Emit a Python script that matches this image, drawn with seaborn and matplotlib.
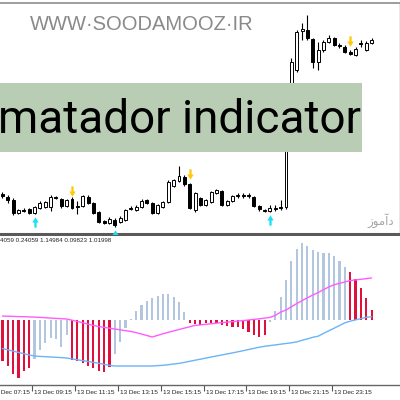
import numpy as np
import pandas as pd
import matplotlib
matplotlib.use("Agg")
import matplotlib.pyplot as plt
import matplotlib.transforms as mtransforms
from matplotlib.path import Path
from matplotlib.patches import Rectangle
from matplotlib import font_manager as fm
import seaborn as sns

sns.set_theme(style="white")
plt.rcParams['font.family'] = ['DejaVu Sans']

# ---------------- data ----------------
opens = [46, 43, 40, 27, 30, 31, 27, 32, 33, 33, 43, 41, 34, 41, 34, 34, 43, 37, 28, 19,
         17, 20, 18, 20, 32, 30, 33, 40, 37, 27, 33, 38, 54, 59, 63, 56, 30, 42, 35, 38,
         47, 49, 35, 39, 45, 45, 45, 43, 34, 30.5, 29, 32, 33, 33, 115, 170, 209, 210, 201, 178,
         190, 198, 202, 195, 193, 188, 185, 197, 190, 197]
highs = [48, 45, 42, 31, 32, 32, 34, 39, 39, 45, 44, 42, 41, 43, 39, 45, 45, 38, 29, 20,
         23, 22, 24, 31, 34, 35, 41, 41, 38, 36, 39, 60, 61, 74, 65, 57, 48, 43, 41, 49,
         51, 50, 40, 45, 47, 47, 47, 44, 35, 31, 35, 35, 40, 122, 182, 210, 217, 225, 202, 198,
         200, 205, 203, 197, 195, 190, 193, 200, 199, 202]
lows = [42, 37, 25, 26, 28, 26, 26, 31, 32, 29, 41, 32, 33, 31, 26, 33, 36, 26, 17, 16,
        16, 13, 17, 19, 30, 29, 32, 36, 26, 26, 32, 37, 53, 58, 54, 31, 28, 34, 34, 37,
        46, 34, 34, 38, 42, 42, 42, 33, 29, 28, 28, 29, 30, 31, 113, 168, 200, 200, 172, 170,
        188, 197, 194, 192, 187, 185, 184, 193, 189, 196]
closes = [44, 40, 27, 30, 29.5, 27, 33, 37, 38, 43, 42.5, 34, 40, 32, 33.5, 44, 37, 27, 18, 17,
          21, 15, 22, 30, 31.5, 33, 39, 37, 27, 35, 38, 58, 60, 64, 56, 32, 47, 35, 40, 48,
          50, 35, 39, 44, 44.5, 44.5, 44.5, 34, 31, 29.5, 32, 31.5, 32.5, 120, 178, 208, 211, 202, 178, 190,
          198, 202, 195, 194.5, 188, 186.5, 191, 196.5, 197, 200]

hist = [-40.7, -46, -54, -58, -51, -48, -39, -30, -23, -18, -19, -27, -15, -40, -41, -43, -46, -48, -51, -52,
        -47, -34, -22, -8, 1, 9, 15, 19.3, 22, 24, 26, 26, 23.3, 18.3, 8.3, -3, -4, -5, -3, -3,
        -3, -5, -6, -7, -7, -8.5, -12, -15, -17, -15, -2, 9, 23.3, 40, 59.3, 71, 76.7, 74.3, 70, 68,
        67.3, 67.3, 64, 59, 53.3, 47.7, 41, 32.3, 21.7, 10]
hist_state = (['down'] * 6 + ['up'] * 7 + ['down'] * 8 + ['up'] * 14 + ['down'] * 15 +
              ['up'] * 15 + ['down'] * 5)

signal = [3.9, 3.8, 3.6, 3.4, 3.3, 3.1, 2.9, 2.6, 2.3, 1.9, 1.6, 1.3, 1.0, -0.2, -1.5, -2.8, -4.1, -5.4, -6.6, -7.3,
          -8.2, -9.0, -9.8, -10.7, -11.4, -12.6, -14.1, -15.5, -17.0, -15.4, -13.8, -12.3, -10.9, -9.5, -8.1, -6.8, -5.4, -4.9, -4.3, -3.8,
          -3.2, -2.7, -2.1, -1.6, -1.1, -0.6, 0.0, 0.6, 1.2, 1.9, 2.6, 4.6, 7.9, 10.0, 13.2, 16.4, 19.4, 22.2, 25.0, 27.4,
          30.3, 33.0, 35.3, 36.6, 38.1, 39.4, 40.1, 40.7, 41.4, 42.0]
slow = [-28.5, -29.8, -31.1, -32.4, -33.7, -35, -36, -36.4, -36.7, -37, -37.3, -37.6, -38, -38.9, -39.8, -40.6, -41.5, -42.4, -43.3, -44.4,
        -45.3, -46, -46, -46, -46, -46, -46, -46, -46, -45.6, -45.3, -44.7, -44, -43.4, -42.4, -41.3, -40.2, -39.2, -38.1, -37,
        -36, -35, -33.9, -32.9, -31.8, -30.7, -29.5, -28.4, -27.2, -26.3, -25.6, -24.9, -24.2, -23.5, -22.8, -21.9, -20.3, -18.9, -17.3, -16.2,
        -13.4, -10.8, -8.2, -5.5, -2.8, -1.2, 0.1, 1.4, 2.7, 3.3]

sell_idx = [13, 35, 65]
sell_price = [49, 66, 199]
buy_idx = [6, 21, 50]
buy_price = [18, 5, 20]

time_labels = ["13 Dec 07:15", "13 Dec 09:15", "13 Dec 11:15", "13 Dec 13:15", "13 Dec 15:15",
               "13 Dec 17:15", "13 Dec 19:15", "13 Dec 21:15", "13 Dec 23:15"]
time_label_bar = [-2.4, 5.6, 13.6, 21.6, 29.6, 37.6, 45.6, 53.6, 61.6]

indicator_values = "4059 0.24059 1.14984 0.09823 1.01998"

# ---------------- figure ----------------
H = 400.0
fig = plt.figure(figsize=(4, 4), dpi=100)
fig.patch.set_facecolor("white")


def fy(px):
    return 1 - px / H


ax = fig.add_axes([0, fy(234), 1, (234 - 3) / H])
ax2 = fig.add_axes([0, fy(385), 1, (385 - 236) / H])
xlim = (-0.458, 74.31)

names = {f.name for f in fm.fontManager.ttflist}

# candles
n = len(opens)
x = np.arange(n)
o = np.array(opens, float)
c = np.array(closes, float)
hi = np.array(highs, float)
lo = np.array(lows, float)
ax.vlines(x, lo, hi, color="black", lw=0.8, zorder=2)
bull = c >= o
body_bottom = np.minimum(o, c)
body_h = np.maximum(np.abs(c - o), 0.3)
ax.bar(x[bull], body_h[bull], bottom=body_bottom[bull], width=0.55,
       color="white", edgecolor="black", linewidth=0.7, zorder=3)
ax.bar(x[~bull], body_h[~bull], bottom=body_bottom[~bull], width=0.55,
       color="black", edgecolor="black", linewidth=0.7, zorder=3)

down_arrow = Path([(-0.22, 1), (0.22, 1), (0.22, 0), (0.62, 0), (0, -1), (-0.62, 0), (-0.22, 0), (-0.22, 1)],
                  [Path.MOVETO] + [Path.LINETO] * 6 + [Path.CLOSEPOLY])
up_arrow = Path([(-0.22, -1), (0.22, -1), (0.22, 0), (0.62, 0), (0, 1), (-0.62, 0), (-0.22, 0), (-0.22, -1)],
                [Path.MOVETO] + [Path.LINETO] * 6 + [Path.CLOSEPOLY])
ax.scatter(sell_idx, sell_price, marker=down_arrow, s=55, color="#ffc800", linewidths=0, zorder=4)
ax.scatter(buy_idx, buy_price, marker=up_arrow, s=55, color="#16e0f5", linewidths=0, zorder=4)

ax.set_xlim(*xlim)
ax.set_ylim(6, 237)
ax.set_xticks([])
ax.set_yticks([])
ax.spines["left"].set_visible(False)
ax.spines["top"].set_color("#8c8c8c")
ax.spines["top"].set_linewidth(1.2)
ax.spines["right"].set_color("#8c8c8c")
ax.spines["right"].set_linewidth(1.0)
ax.spines["bottom"].set_color("#5a5a5a")
ax.spines["bottom"].set_linewidth(2.2)

# Persian watermark fragment (presentation forms, visual order)
ax.text(68.2, 19, "\ufeaf\ufeee\ufee3\ufe81\ufea9", fontsize=8.5, color="#a6a6a6",
        family="DejaVu Sans", va="center", ha="left", zorder=2)

# indicator
df = pd.DataFrame({"bar": x, "value": hist, "state": hist_state})
sns.barplot(data=df, x="bar", y="value", hue="state",
            palette={"down": "#e0103c", "up": "#b3c6e0"}, native_scale=True,
            width=0.4, dodge=False, legend=False, errorbar=None, saturation=1,
            linewidth=0, ax=ax2, zorder=2)
sns.lineplot(x=x, y=signal, color="#ff5cff", lw=1.0, ax=ax2, zorder=3)
sns.lineplot(x=x, y=slow, color="#6ab4f8", lw=1.0, ax=ax2, zorder=3)
ax2.set_xlim(*xlim)
ax2.set_ylim(-65, 84)
ax2.set_xlabel("")
ax2.set_ylabel("")
ax2.set_yticks([])
ticks_in = [t for t in time_label_bar if xlim[0] <= t <= xlim[1]]
ax2.set_xticks(ticks_in)
ax2.set_xticklabels([""] * len(ticks_in))
ax2.tick_params(axis="x", direction="out", length=4, width=0.8, color="#555555", bottom=True)
for s in ["left", "top", "right"]:
    ax2.spines[s].set_visible(False)
ax2.spines["bottom"].set_color("#666666")
ax2.spines["bottom"].set_linewidth(1.0)

lab_font = "Liberation Sans" if "Liberation Sans" in names else "DejaVu Sans"
lab_tr = mtransforms.offset_copy(ax2.get_xaxis_transform(), fig, x=2, y=-4.5, units="dots")
for pos, lab in zip(time_label_bar, time_labels):
    ax2.text(pos, 0, lab, transform=lab_tr, ha="left", va="top", fontsize=4.6,
             family=lab_font, color="#222222", clip_on=False)

val_tr = mtransforms.offset_copy(ax2.transAxes, fig, x=0, y=-2.5, units="dots")
ax2.text(0, 1, indicator_values, transform=val_tr, ha="left", va="top", fontsize=4.5,
         family=lab_font, color="#222222")

# green band with title
fig.add_artist(Rectangle((0, fy(152)), 362 / H, (152 - 83) / H, transform=fig.transFigure,
                         facecolor="#b9cdb5", edgecolor="none", zorder=5))
title_font = "Roboto" if "Roboto" in names else "DejaVu Sans"
fig.text(-0.005, fy(133), "matador indicator", family=title_font, fontsize=33,
         color="black", va="baseline", ha="left", zorder=6)

# site watermark
if "Liberation Sans Narrow" in names:
    wm_font, wm_size = "Liberation Sans Narrow", 17.5
else:
    wm_font, wm_size = "Liberation Sans", 14.5
fig.text(30 / H, fy(30), "WWW\u00b7SOODAMOOZ\u00b7IR", family=wm_font, fontsize=wm_size,
         color="#8a8a8a", va="baseline", ha="left", zorder=6)

fig.savefig("out.png", dpi=100, facecolor="white")
